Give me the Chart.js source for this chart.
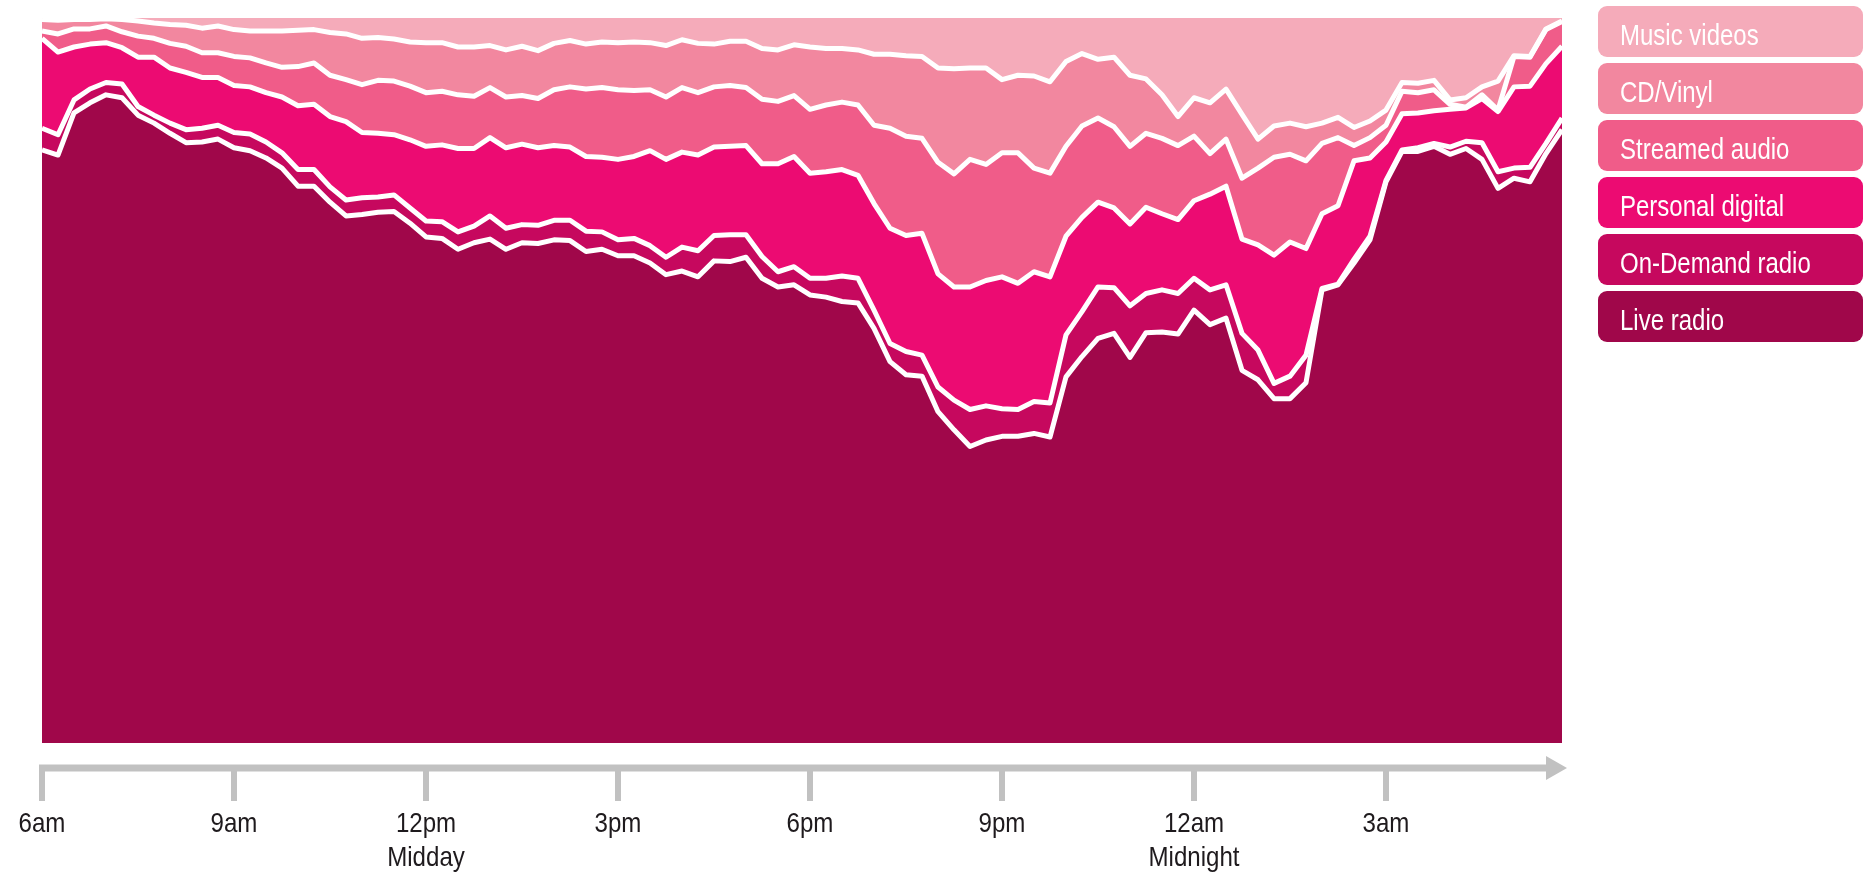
<!DOCTYPE html>
<html lang="en">
<head>
<meta charset="utf-8">
<title>Listening share through the day</title>
<script src="https://cdn.jsdelivr.net/npm/chart.js@4.4.1/dist/chart.umd.min.js"></script>
<style>
  html, body { margin: 0; padding: 0; background: #ffffff; }
  #wrap { position: relative; width: 1874px; height: 887px; }
</style>
</head>
<body>
<div id="wrap"><canvas id="chartEscucha"></canvas></div>
<script>
// ============================================================
// Share of listening (%) by source, 15-minute slots 6am -> 5:45am
// ============================================================

var FONT_FAMILY = "'Liberation Sans', Arial, sans-serif";

// slot labels: 06:00, 06:15 ... 05:45
var SLOTS = [];
for (var s = 0; s < 96; s++) {
  var mins = 6 * 60 + s * 15;
  var hh = Math.floor(mins / 60) % 24;
  var mm = mins % 60;
  SLOTS.push(String(hh).padStart(2, '0') + ':' + String(mm).padStart(2, '0'));
}

var TICK_EVERY = 12;
var TICK_LABELS = ['6am', '9am', ['12pm', 'Midday'], '3pm', '6pm', '9pm', ['12am', 'Midnight'], '3am'];

var SERIES_NAMES = ['Live radio', 'On-Demand radio', 'Personal digital', 'Streamed audio', 'CD/Vinyl', 'Music videos'];
var SERIES_COLORS = ['#A0074A', '#C6085E', '#EC0B72', '#F05C89', '#F2879F', '#F5ABBA'];

var liveRadio = [
  81.8, 81.1, 86.9, 88.3, 89.4, 89.0, 86.6, 85.5, 84.1, 82.8,
  82.9, 83.3, 82.1, 81.7, 80.7, 79.3, 76.8, 76.8, 74.6, 72.7,
  72.9, 73.2, 73.3, 71.7, 69.8, 69.6, 68.1, 69.0, 69.5, 68.1,
  69.0, 68.9, 69.4, 69.3, 67.8, 68.1, 67.2, 67.2, 66.2, 64.6,
  65.1, 64.3, 66.5, 66.4, 67.0, 64.1, 62.9, 63.2, 61.8, 61.5,
  60.9, 60.7, 57.2, 52.6, 50.8, 50.6, 45.7, 43.2, 40.9, 41.8,
  42.3, 42.3, 42.7, 42.2, 50.5, 53.3, 55.8, 56.5, 53.2, 56.6,
  56.7, 56.4, 59.7, 57.7, 58.6, 51.4, 50.1, 47.5, 47.5, 49.7,
  62.5, 63.2, 66.2, 69.4, 77.4, 81.6, 81.6, 82.3, 81.2, 82.0,
  80.5, 76.5, 77.9, 77.4, 81.3, 84.6
];

var onDemandRadio = [
  3.0, 2.8, 1.8, 1.9, 1.7, 1.9, 1.2, 1.1, 1.4, 1.8,
  1.9, 1.9, 2.1, 2.3, 2.2, 2.1, 2.3, 2.3, 2.1, 2.2,
  2.3, 2.1, 2.3, 2.1, 2.2, 2.3, 2.4, 2.3, 3.2, 2.9,
  2.5, 2.5, 2.7, 2.8, 2.8, 2.4, 2.2, 2.4, 2.4, 2.4,
  3.3, 3.6, 3.5, 3.7, 3.1, 3.0, 2.1, 2.5, 2.3, 2.6,
  3.5, 3.4, 2.5, 2.5, 3.2, 2.9, 3.4, 4.1, 5.1, 4.7,
  3.8, 3.7, 4.4, 4.7, 5.8, 6.2, 7.1, 6.3, 7.1, 5.4,
  5.8, 5.6, 4.4, 4.8, 4.6, 5.1, 4.1, 2.1, 3.1, 3.8,
  0.2, 0.1, 0.5, 0.5, 0.2, 0.2, 0.5, 0.4, 1.0, 1.0,
  2.3, 2.3, 1.4, 2.0, 1.4, 1.6
];

var personalDigital = [
  12.4, 11.4, 7.3, 6.2, 5.5, 5.0, 6.8, 8.0, 7.6, 7.9,
  7.0, 6.6, 6.5, 6.5, 6.8, 7.7, 8.8, 9.0, 9.7, 10.8,
  9.0, 8.8, 8.3, 9.4, 10.3, 10.6, 11.5, 10.7, 10.8, 11.1,
  11.1, 10.7, 10.3, 10.1, 10.3, 10.3, 11.1, 11.3, 13.1, 13.5,
  13.1, 13.2, 12.2, 12.2, 12.3, 12.8, 14.9, 15.2, 14.5, 14.7,
  14.7, 14.2, 14.7, 15.9, 16.0, 16.8, 15.6, 15.6, 16.9, 17.3,
  18.2, 17.4, 17.9, 17.4, 13.6, 13.0, 11.7, 11.0, 11.3, 11.9,
  10.5, 10.2, 10.7, 13.2, 13.6, 13.0, 14.5, 17.7, 18.5, 14.7,
  10.3, 10.8, 13.6, 10.8, 5.3, 5.0, 4.8, 4.5, 5.2, 4.6,
  6.1, 8.3, 11.2, 11.2, 11.0, 9.9
];

var streamedAudio = [
  1.0, 2.5, 2.5, 2.1, 2.3, 2.2, 2.9, 2.6, 3.4, 3.6,
  3.4, 3.4, 4.0, 4.0, 4.1, 4.1, 5.4, 5.7, 5.7, 5.8,
  6.6, 7.3, 7.4, 7.4, 7.4, 7.4, 7.4, 7.2, 6.9, 7.0,
  6.7, 6.8, 7.7, 8.3, 9.3, 9.6, 9.6, 9.1, 8.4, 8.6,
  8.9, 8.6, 8.3, 8.4, 8.0, 8.9, 8.6, 8.4, 8.8, 9.2,
  9.3, 9.7, 10.8, 13.8, 13.7, 13.1, 15.4, 15.6, 17.6, 16.0,
  17.1, 18.0, 14.3, 14.3, 12.4, 12.6, 11.6, 11.2, 10.7, 10.2,
  10.4, 10.2, 8.9, 5.6, 6.5, 8.4, 10.6, 13.5, 12.1, 12.1,
  9.7, 9.4, 2.1, 2.8, 2.3, 3.1, 2.8, 2.9, 0.7, 0.1,
  0.5, 0.2, 4.2, 4.0, 4.7, 3.4
];

var cdVinyl = [
  1.6, 1.9, 1.3, 1.3, 1.0, 1.7, 2.1, 2.1, 2.6, 2.9,
  3.4, 3.7, 3.7, 3.7, 4.4, 5.0, 5.0, 4.6, 5.9, 6.3,
  6.4, 5.9, 5.8, 6.1, 6.9, 6.7, 6.6, 6.8, 5.8, 6.5,
  6.8, 6.6, 6.4, 6.4, 6.2, 6.3, 6.5, 6.7, 6.5, 7.1,
  6.6, 6.8, 5.9, 6.1, 6.4, 7.0, 7.1, 7.0, 8.6, 7.8,
  7.4, 7.6, 9.8, 10.2, 11.1, 11.3, 13.0, 14.5, 12.6, 13.3,
  10.1, 10.7, 12.7, 12.6, 11.7, 10.0, 8.1, 9.6, 9.8, 7.5,
  6.0, 4.0, 5.3, 7.0, 6.9, 8.8, 4.0, 4.3, 4.3, 4.7,
  2.8, 2.8, 2.5, 2.3, 2.1, 1.2, 1.3, 1.3, 0.6, 1.3,
  1.1, 4.0, 0.1, 0.1, 0.1, 0.1
];

var musicVideos = [
  0.2, 0.3, 0.2, 0.2, 0.1, 0.2, 0.4, 0.7, 0.9, 1.0,
  1.4, 1.1, 1.6, 1.8, 1.8, 1.8, 1.7, 1.6, 2.0, 2.2,
  2.8, 2.7, 2.9, 3.3, 3.4, 3.4, 4.0, 4.0, 3.8, 4.4,
  3.9, 4.5, 3.5, 3.1, 3.6, 3.3, 3.4, 3.3, 3.4, 3.8,
  3.0, 3.5, 3.6, 3.2, 3.2, 4.2, 4.4, 3.7, 4.0, 4.2,
  4.2, 4.4, 5.0, 5.0, 5.2, 5.3, 6.9, 7.0, 6.9, 6.9,
  8.5, 7.9, 8.0, 8.8, 6.0, 4.9, 5.7, 5.4, 7.9, 8.4,
  10.6, 13.6, 11.0, 11.7, 9.8, 13.3, 16.7, 14.9, 14.5, 15.0,
  14.5, 13.7, 15.1, 14.2, 12.7, 8.9, 9.0, 8.6, 11.3, 11.0,
  9.5, 8.7, 5.2, 5.3, 1.5, 0.4
];

var SERIES_DATA = [liveRadio, onDemandRadio, personalDigital, streamedAudio, cdVinyl, musicVideos];

// texto estrecho (la fuente del original es condensada)
function gnTextoEstrecho(ctx, texto, x, y, escala) {
  ctx.save();
  ctx.translate(x, y);
  ctx.scale(escala, 1);
  ctx.fillText(texto, 0, 0);
  ctx.restore();
}

// ------------------------------------------------------------
// Eje de tiempo: línea gris con flecha, marcas cada 3 horas y etiquetas
// ------------------------------------------------------------
var ejeTiempoPlugin = {
  id: 'ejeTiempo',
  afterDraw: function(chart) {
    var ctx = chart.ctx;
    var area = chart.chartArea;
    var xs = chart.scales.x;
    var y = area.bottom + 25;

    ctx.save();
    ctx.strokeStyle = '#C1C1C1';
    ctx.fillStyle = '#C1C1C1';
    ctx.lineWidth = 7;
    ctx.beginPath();
    ctx.moveTo(area.left - 3, y);
    ctx.lineTo(area.right - 12, y);
    ctx.stroke();

    ctx.beginPath();
    ctx.moveTo(area.right - 16, y - 12);
    ctx.lineTo(area.right + 5, y);
    ctx.lineTo(area.right - 16, y + 12);
    ctx.closePath();
    ctx.fill();

    ctx.lineWidth = 6;
    for (var i = 0; i < SLOTS.length; i += TICK_EVERY) {
      var px = xs.getPixelForValue(i);
      ctx.beginPath();
      ctx.moveTo(px, y);
      ctx.lineTo(px, y + 33);
      ctx.stroke();
    }

    ctx.fillStyle = '#1E1A1D';
    ctx.font = '28px ' + FONT_FAMILY;
    ctx.textAlign = 'center';
    ctx.textBaseline = 'middle';
    TICK_LABELS.forEach(function(lab, k) {
      var tx = xs.getPixelForValue(k * TICK_EVERY);
      var lineas = Array.isArray(lab) ? lab : [lab];
      lineas.forEach(function(t, j) {
        gnTextoEstrecho(ctx, t, tx, area.bottom + 81 + j * 34, 0.86);
      });
    });
    ctx.restore();
  }
};

// ------------------------------------------------------------
// Leyenda: cajas redondeadas con el nombre en blanco
// ------------------------------------------------------------
var leyendaPlugin = {
  id: 'leyendaCajas',
  afterDraw: function(chart) {
    var ctx = chart.ctx;
    var sets = chart.data.datasets;
    var left = 1598, width = 265, height = 51, pitch = 57, top0 = 6;

    ctx.save();
    ctx.font = '30px ' + FONT_FAMILY;
    ctx.textBaseline = 'alphabetic';
    ctx.textAlign = 'left';
    for (var k = 0; k < sets.length; k++) {
      var ds = sets[sets.length - 1 - k];
      var top = top0 + k * pitch;
      ctx.fillStyle = ds.backgroundColor;
      ctx.beginPath();
      ctx.roundRect(left, top, width, height, 9);
      ctx.fill();
      ctx.fillStyle = '#FFFFFF';
      gnTextoEstrecho(ctx, ds.label, left + 22, top + 39, 0.8);
    }
    ctx.restore();
  }
};

var datasets = SERIES_NAMES.map(function(name, i) {
  return {
    label: name,
    data: SERIES_DATA[i],
    backgroundColor: SERIES_COLORS[i],
    borderColor: '#FFFFFF',
    borderWidth: i === SERIES_NAMES.length - 1 ? 0 : 5,
    borderJoinStyle: 'round',
    pointRadius: 0,
    pointHoverRadius: 0,
    tension: 0,
    fill: i === 0 ? 'origin' : '-1'
  };
});

new Chart(document.getElementById('chartEscucha'), {
  type: 'line',
  data: { labels: SLOTS, datasets: datasets },
  options: {
    responsive: true,
    maintainAspectRatio: false,
    animation: false,
    devicePixelRatio: 1,
    layout: { padding: { left: 42, right: 312, top: 18, bottom: 144 } },
    plugins: {
      legend: { display: false },
      tooltip: { enabled: false },
      filler: { drawTime: 'beforeDatasetsDraw' }
    },
    scales: {
      y: { stacked: true, min: 0, max: 100, display: false },
      x: { offset: false, display: false }
    }
  },
  plugins: [ejeTiempoPlugin, leyendaPlugin]
});
</script>
</body>
</html>
